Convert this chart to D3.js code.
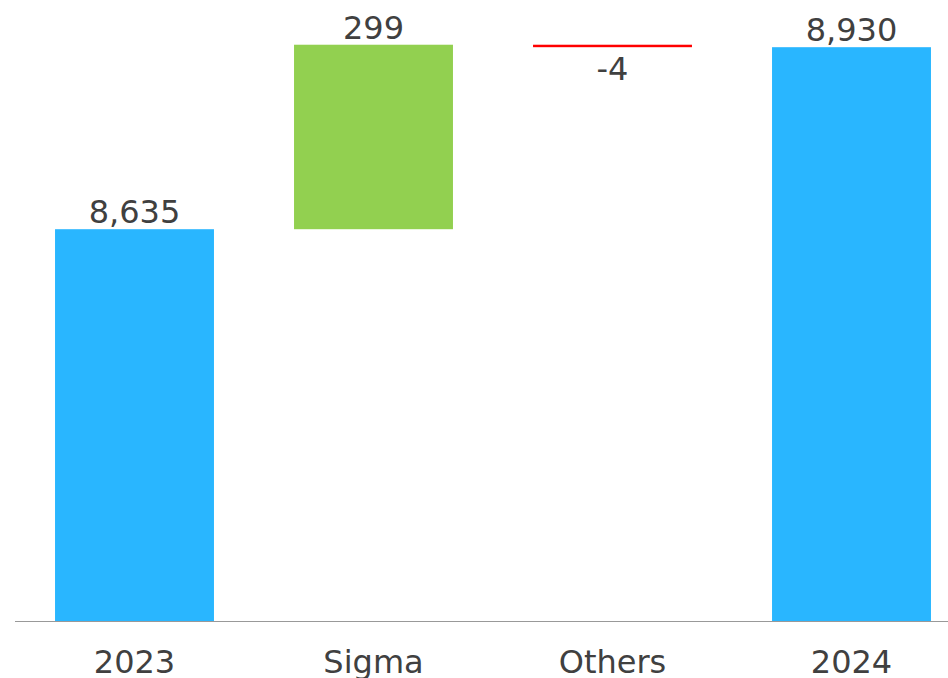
<!DOCTYPE html>
<html>
<head>
<meta charset="utf-8">
<script src="https://cdn.jsdelivr.net/npm/d3@7/dist/d3.min.js"></script>
<style>
  html, body { margin: 0; padding: 0; background: #ffffff; }
  svg { display: block; }
  text { font-family: "DejaVu Sans", Verdana, sans-serif; fill: #404040; }
</style>
</head>
<body>
<svg id="chart" width="948" height="678"></svg>
<script>
const categories = ["2023", "Sigma", "Others", "2024"];
const values = [8635, 299, -4, 8930];
const kinds = ["total", "delta", "delta", "total"];
const yDomain = [8000, 9000];

const W = 948, H = 678;
const svg = d3.select("#chart");

const x = d3.scaleBand()
  .domain(categories)
  .range([15, 971])
  .paddingInner(0.335)
  .paddingOuter(0.1675);

const y = d3.scaleLinear().domain(yDomain).range([621, 4]);

const fmt = d3.formatLocale({decimal: ".", thousands: ",", grouping: [3], currency: ["", ""], minus: "-"}).format(",");

let running = 0;
const bars = categories.map((c, i) => {
  let lo, hi;
  if (kinds[i] === "total") {
    lo = yDomain[0]; hi = values[i]; running = values[i];
  } else {
    const start = running;
    running = running + values[i];
    lo = Math.min(start, running); hi = Math.max(start, running);
  }
  return {cat: c, value: values[i], kind: kinds[i], lo, hi};
});

function color(d) {
  if (d.kind === "total") return "#29B6FF";
  return d.value >= 0 ? "#92D050" : "#FF0000";
}

svg.selectAll("rect.bar")
  .data(bars)
  .join("rect")
  .attr("class", "bar")
  .attr("x", d => x(d.cat))
  .attr("width", x.bandwidth())
  .attr("y", d => y(d.hi))
  .attr("height", d => Math.max(2, y(d.lo) - y(d.hi)))
  .attr("fill", color);

// value labels
svg.selectAll("text.val")
  .data(bars)
  .join("text")
  .attr("class", "val")
  .attr("x", d => x(d.cat) + x.bandwidth() / 2)
  .attr("y", d => d.value >= 0 ? y(d.hi) - 6 : y(d.lo) + 33)
  .attr("text-anchor", "middle")
  .style("font-size", "32px")
  .text(d => fmt(d.value));

// axis line
svg.append("line")
  .attr("x1", 15).attr("x2", W)
  .attr("y1", 621.5).attr("y2", 621.5)
  .attr("stroke", "#808080")
  .attr("stroke-opacity", 0.8)
  .attr("stroke-width", 1);

// category labels
const xAxis = d3.axisBottom(x).tickSize(0).tickPadding(0);
const gx = svg.append("g").attr("transform", "translate(0,0)").call(xAxis);
gx.select(".domain").remove();
gx.selectAll("text")
  .attr("y", 673)
  .attr("dy", null)
  .style("font-size", "32px")
  .style("font-family", "'DejaVu Sans', Verdana, sans-serif")
  .attr("fill", "#404040");
</script>
</body>
</html>
